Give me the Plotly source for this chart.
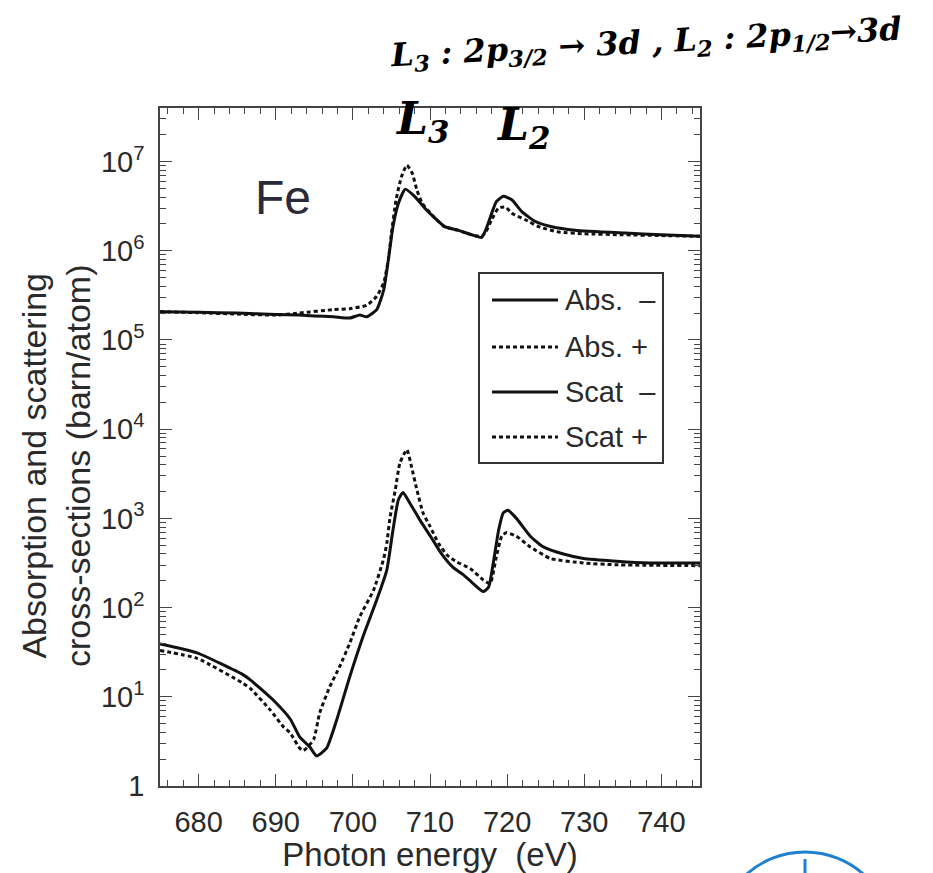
import plotly.graph_objects as go

# ---------------- data ----------------
abs_minus_E = [675, 680, 685, 690, 693, 695, 697.5, 699.6, 700.9, 701.8, 703.1, 704.0, 704.6,
               705.2, 705.9, 706.8, 708.0, 709.3, 710.6, 711.9, 713.6, 715.4, 716.7, 717.3,
               718.0, 718.6, 719.5, 720.6, 721.9, 723.6, 725.8, 728.8, 735.3, 740, 745]
abs_minus = [2.07e5, 2.04e5, 2.0e5, 1.93e5, 1.9e5, 1.86e5, 1.82e5, 1.76e5, 1.9e5, 1.82e5,
             2.19e5, 3.63e5, 7.9e5, 1.86e6, 3.39e6, 4.9e6, 4.07e6, 3.02e6, 2.34e6, 1.86e6,
             1.70e6, 1.51e6, 1.41e6, 1.78e6, 2.63e6, 3.55e6, 4.07e6, 3.72e6, 2.75e6, 2.14e6,
             1.86e6, 1.70e6, 1.58e6, 1.51e6, 1.45e6]

abs_plus_E = [675, 680, 685, 690, 693, 697.5, 699.6, 701.8, 703.1, 704.0, 704.6, 705.0, 705.6,
              706.3, 707.0, 707.7, 708.3, 709.0, 710.6, 711.9, 713.6, 715.4, 716.7, 717.3,
              718.0, 718.9, 719.8, 720.6, 722.3, 724.1, 726.7, 730, 735, 740, 745]
abs_plus = [2.07e5, 2.02e5, 1.95e5, 1.9e5, 2.0e5, 2.19e5, 2.24e5, 2.45e5, 3.09e5, 4.37e5,
            7.9e5, 1.58e6, 3.72e6, 6.76e6, 9.1e6, 7.4e6, 4.8e6, 3.39e6, 2.34e6, 1.86e6,
            1.70e6, 1.51e6, 1.45e6, 1.66e6, 2.24e6, 3.02e6, 3.09e6, 2.63e6, 2.24e6, 1.86e6,
            1.62e6, 1.55e6, 1.51e6, 1.48e6, 1.45e6]

scat_minus_E = [675, 679.8, 685.8, 686.7, 688.0, 689.9, 691.9, 693.1, 694.4, 695.3, 696.6,
                697.9, 699.6, 701.3, 703.1, 704.4, 705.2, 705.9, 706.5, 707.4, 708.7, 710.2,
                711.5, 713.0, 714.3, 715.6, 716.9, 717.6, 718.2, 718.9, 719.5, 720.1, 721.2,
                723.0, 724.7, 727.3, 729.9, 734.2, 738.5, 745]
scat_minus = [39, 31, 17.6, 15.5, 12.4, 8.8, 5.6, 3.55, 2.75, 2.17, 2.66, 5.5, 16.8, 46.8,
              122, 263, 741, 1620, 1950, 1480, 955, 603, 400, 282, 234, 186, 151, 170, 316,
              741, 1150, 1230, 1000, 631, 479, 398, 355, 331, 316, 316]

scat_plus_E = [675, 679.8, 685.8, 686.7, 689.3, 691.0, 691.9, 693.1, 693.6, 694.9, 695.7,
               697.0, 698.3, 699.6, 700.9, 702.7, 704.0, 704.4, 704.8, 705.5, 706.1, 707.0,
               707.6, 708.3, 709.1, 710.0, 711.1, 712.2, 713.5, 715.2, 716.9, 717.8, 718.6,
               719.3, 719.9, 721.2, 723.0, 725.6, 729.9, 734.0, 745]
scat_plus = [33, 27, 14.1, 12.4, 7.1, 4.6, 3.9, 2.66, 2.5, 3.3, 6.6, 12.9, 21.9, 40, 79,
             158, 355, 525, 1000, 2090, 4170, 5890, 3800, 2090, 1150, 813, 525, 389, 324,
             275, 204, 186, 372, 631, 692, 631, 479, 355, 316, 302, 295]

x_ticks = [680, 690, 700, 710, 720, 730, 740]
y_ticks = [1, 10, 100, 1e3, 1e4, 1e5, 1e6, 1e7]
y_ticktext = ["1", "10<sup>1</sup>", "10<sup>2</sup>", "10<sup>3</sup>", "10<sup>4</sup>",
              "10<sup>5</sup>", "10<sup>6</sup>", "10<sup>7</sup>"]
legend_labels = ["Abs.\u00a0\u00a0\u2013", "Abs.\u00a0+", "Scat\u00a0\u00a0\u2013", "Scat\u00a0+"]

# ---------------- geometry (reference pixels; page body has an 8px margin) ----------------
OFF = 8
W, H = 933 - OFF, 873 - OFF
PL, PR, PT, PB = 160, 700, 108, 786   # plot frame in window pixels


def fx(x):
    return (x - PL) / (PR - PL)


def fy(y):
    return (PB - y) / (PB - PT)


FONT = "Liberation Sans, Arial, sans-serif"
TXT = "#2a2a2a"
DOT = "4px,3px"

fig = go.Figure()
for E, v, dash in [(abs_minus_E, abs_minus, "solid"), (abs_plus_E, abs_plus, DOT),
                   (scat_minus_E, scat_minus, "solid"), (scat_plus_E, scat_plus, DOT)]:
    fig.add_trace(go.Scatter(x=E, y=v, mode="lines", showlegend=False,
                             line=dict(color="#111111", width=3, dash=dash,
                                       shape="spline", smoothing=0.5)))

minor_y = [k * 10 ** d for d in range(0, 8) for k in range(2, 10) if k * 10 ** d < 4e7]

fig.update_layout(
    width=W, height=H,
    margin=dict(l=PL - OFF, r=W - (PR - OFF), t=PT - OFF, b=H - (PB - OFF), pad=0),
    paper_bgcolor="white", plot_bgcolor="white",
    font=dict(family=FONT, color=TXT),
    xaxis=dict(range=[675, 745], tickmode="array", tickvals=x_ticks, automargin=False,
               ticks="inside", ticklen=12, tickwidth=1.3, tickcolor="#444",
               showline=True, linecolor="#444", linewidth=1.5, mirror="ticks",
               showgrid=False, zeroline=False, ticklabelstandoff=9,
               tickfont=dict(size=29, color=TXT),
               minor=dict(dtick=2, tick0=676, ticks="inside", ticklen=6,
                          tickwidth=1.2, tickcolor="#444", showgrid=False),
               title=dict(text="Photon energy\u00a0\u00a0(eV)", font=dict(size=33, color=TXT),
                          standoff=5)),
    yaxis=dict(type="log", range=[0, 7.6], tickmode="array", tickvals=y_ticks, automargin=False,
               ticktext=y_ticktext, ticks="inside", ticklen=12, tickwidth=1.3,
               tickcolor="#444", showline=True, linecolor="#444", linewidth=1.5,
               mirror="ticks", showgrid=False, zeroline=False, ticklabelstandoff=8,
               tickfont=dict(size=29, color=TXT),
               minor=dict(tickmode="array", tickvals=minor_y, ticks="inside", ticklen=6,
                          tickwidth=1.2, tickcolor="#444", showgrid=False)),
)

shapes = []
annotations = []

# y-axis title (two lines)
annotations.append(dict(xref="paper", yref="paper", x=fx(56), y=fy(466), xanchor="center",
                        yanchor="middle", textangle=-90, showarrow=False,
                        text="Absorption and scattering<br>cross-sections (barn/atom)",
                        font=dict(size=34, color=TXT, family=FONT)))

# element label
annotations.append(dict(xref="paper", yref="paper", x=fx(283), y=fy(197), xanchor="center",
                        yanchor="middle", showarrow=False, text="Fe",
                        font=dict(size=48, color="#2a2a38", family=FONT)))

# legend (drawn box)
shapes.append(dict(type="rect", xref="paper", yref="paper", x0=fx(479), x1=fx(663),
                   y0=fy(463), y1=fy(273), line=dict(color="#333", width=2),
                   fillcolor="white", layer="above"))
rows = [300, 347, 392, 437]
dashes = ["solid", DOT, "solid", DOT]
for r, d, lab in zip(rows, dashes, legend_labels):
    shapes.append(dict(type="line", xref="paper", yref="paper", x0=fx(492), x1=fx(558),
                       y0=fy(r), y1=fy(r), line=dict(color="#111", width=3, dash=d),
                       layer="above"))
    annotations.append(dict(xref="paper", yref="paper", x=fx(563), y=fy(r), xanchor="left",
                            yanchor="middle", showarrow=False, text=lab,
                            font=dict(size=29, color=TXT, family=FONT)))

# hand-written notes
HAND = dict(family="DejaVu Serif", size=32, color="#000000", weight="bold", style="italic")
annotations.append(dict(xref="paper", yref="paper", x=fx(646), y=fy(44), xanchor="center",
                        yanchor="middle", showarrow=False, textangle=-3,
                        text="L<sub>3</sub> : 2p<sub>3/2</sub> \u2192 3d , L<sub>2</sub> : 2p<sub>1/2</sub>\u21923d",
                        font=HAND))
annotations.append(dict(xref="paper", yref="paper", x=fx(422), y=fy(121), xanchor="center",
                        yanchor="middle", showarrow=False, text="L<sub>3</sub>",
                        font=dict(HAND, size=44)))
annotations.append(dict(xref="paper", yref="paper", x=fx(523), y=fy(127), xanchor="center",
                        yanchor="middle", showarrow=False, text="L<sub>2</sub>",
                        font=dict(HAND, size=44)))

# partial blue logo at bottom right
shapes.append(dict(type="circle", xref="paper", yref="paper", x0=fx(717), x1=fx(893),
                   y0=fy(1028), y1=fy(852), line=dict(color="#1f7fd1", width=3)))
shapes.append(dict(type="line", xref="paper", yref="paper", x0=fx(805), x1=fx(805),
                   y0=fy(873), y1=fy(859), line=dict(color="#1f7fd1", width=3)))

fig.update_layout(shapes=shapes, annotations=annotations)
fig.write_html("out.html")
